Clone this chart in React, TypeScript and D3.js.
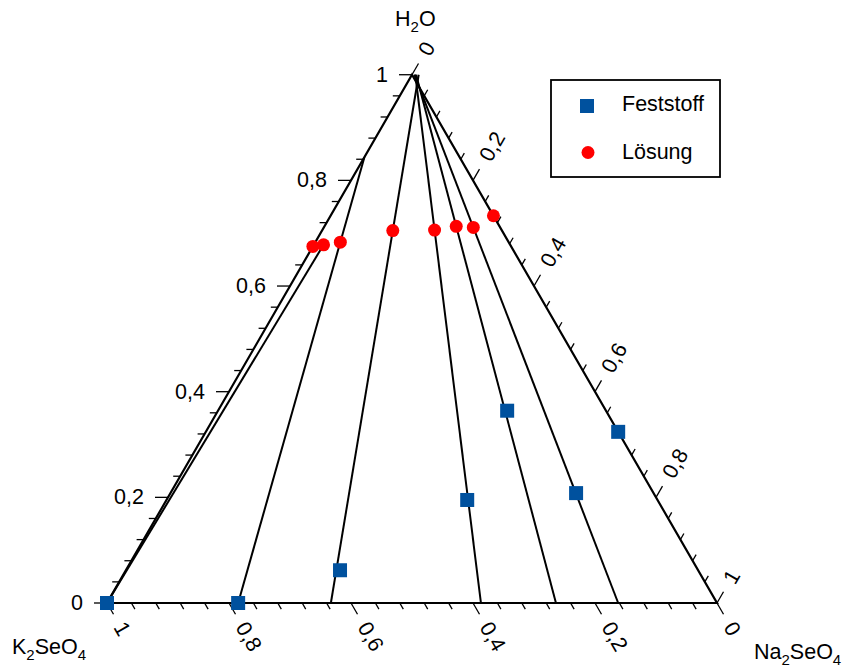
import React from "react";
import * as d3 from "d3";

// Ternary system K2SeO4 – Na2SeO4 – H2O, mass fractions.
// Each composition is given as [Na2SeO4 fraction, H2O fraction]; K2SeO4 = 1 - both.
const solutionNa = [0.0, 0.016, 0.041, 0.116, 0.184, 0.216, 0.245, 0.267];
const solutionW = [0.675, 0.678, 0.683, 0.705, 0.706, 0.713, 0.711, 0.733];

const solidNa = [0.0, 0.215, 0.351, 0.493, 0.474, 0.665, 0.676];
const solidW = [0.0, 0.0, 0.062, 0.195, 0.364, 0.208, 0.324];

// Tie lines: start on the anhydrous side (Na2SeO4 fraction, H2O = 0),
// run through a solution point and optionally continue up to the water line
// (or the K2SeO4–H2O edge, whichever comes first).
const tieStartNa = [0.0, 0.215, 0.367, 0.613, 0.736, 0.838];
const tieSolution = [1, 2, 3, 4, 5, 6];
const tieExtend = [false, true, true, true, true, true];

const tickValues = d3.range(0, 1.0001, 0.04).map((v) => Math.round(v * 100) / 100);
const labelValues = [0, 0.2, 0.4, 0.6, 0.8, 1];

const legendLabels = ["Feststoff", "Lösung"];

const W = 848;
const H = 669;
const x0 = 107;
const y0 = 603;
const side = 610;
const height = side * Math.sqrt(3) / 2;

const xScale = d3.scaleLinear().domain([0, 1]).range([x0, x0 + side]);
const yScale = d3.scaleLinear().domain([0, 1]).range([y0, y0 - height]);

const deLocale = d3.formatLocale({ decimal: ",", thousands: ".", grouping: [3], currency: ["", "€"] });
const fmt = deLocale.format("~g");

type Comp = { na: number; w: number };
const px = (c: Comp): [number, number] => [xScale(c.na + c.w / 2), yScale(c.w)];

const FONT = "'Liberation Sans', Arial, Helvetica, sans-serif";
const BLUE = "#00519e";
const RED = "#ff0000";
const FS = 21.5;
const SUB = 15;

function extendLine(p: Comp, q: Comp): Comp {
  const dNa = q.na - p.na;
  const dW = q.w - p.w;
  let tMax = (1 - p.w) / dW;
  if (dNa < 0) tMax = Math.min(tMax, -p.na / dNa);
  return { na: p.na + tMax * dNa, w: p.w + tMax * dW };
}

export default function App() {
  const cos60 = 0.5;
  const sin60 = Math.sqrt(3) / 2;

  const A: Comp = { na: 0, w: 0 }; // K2SeO4
  const B: Comp = { na: 1, w: 0 }; // Na2SeO4
  const C: Comp = { na: 0, w: 1 }; // H2O
  const tri = [A, B, C].map(px);

  const tieLines = tieStartNa.map((na, i) => {
    const p: Comp = { na, w: 0 };
    const s = tieSolution[i];
    const q: Comp = { na: solutionNa[s], w: solutionW[s] };
    const end = tieExtend[i] ? extendLine(p, q) : q;
    return [px(p), px(end)];
  });

  const isMajor = (v: number) => Math.abs(v * 5 - Math.round(v * 5)) < 1e-6;
  const majorLen = 13;
  const minorLen = 7;
  const labelOff = 24;

  // left axis: H2O fraction, ticks point left
  const leftTicks = tickValues.map((v) => {
    const [x, y] = px({ na: 0, w: v });
    const len = isMajor(v) ? majorLen : minorLen;
    return { v, x, y, x2: x - len, y2: y };
  });
  // bottom axis: K2SeO4 fraction, ticks point down-right
  const bottomTicks = tickValues.map((v) => {
    const [x, y] = px({ na: 1 - v, w: 0 });
    const len = isMajor(v) ? majorLen : minorLen;
    return { v, x, y, x2: x + len * cos60, y2: y + len * sin60 };
  });
  // right axis: Na2SeO4 fraction, ticks point up-right
  const rightTicks = tickValues.map((v) => {
    const [x, y] = px({ na: v, w: 1 - v });
    const len = isMajor(v) ? majorLen : minorLen;
    return { v, x, y, x2: x + len * cos60, y2: y - len * sin60 };
  });

  const lineStyle = { stroke: "#000", strokeWidth: 1.3, fill: "none" };
  const isLabel = (v: number) => labelValues.some((l) => Math.abs(l - v) < 1e-6);

  return (
    <svg width={W} height={H} viewBox={`0 0 ${W} ${H}`} style={{ display: "block", position: "absolute", left: 0, top: 0, background: "#fff" }} fontFamily={FONT}>
      <rect x={0} y={0} width={W} height={H} fill="#fff" />

      {/* triangle edges */}
      <polygon points={tri.map((p) => p.join(",")).join(" ")} fill="none" stroke="#000" strokeWidth={2.2} strokeLinejoin="miter" />

      {/* ticks */}
      {[...leftTicks, ...bottomTicks, ...rightTicks].map((t, i) => (
        <line key={"t" + i} x1={t.x} y1={t.y} x2={t.x2} y2={t.y2} {...lineStyle} />
      ))}

      {/* tick labels */}
      {leftTicks.filter((t) => isLabel(t.v)).map((t, i) => (
        <text key={"ll" + i} x={t.x - labelOff} y={t.y} textAnchor="end" dominantBaseline="central" fontSize={FS} fill="#000">
          {fmt(t.v)}
        </text>
      ))}
      {bottomTicks.filter((t) => isLabel(t.v)).map((t, i) => {
        const lx = t.x + labelOff * cos60;
        const ly = t.y + labelOff * sin60;
        return (
          <text key={"bl" + i} x={lx} y={ly} textAnchor="start" dominantBaseline="central" fontSize={FS} fill="#000" transform={`rotate(60 ${lx} ${ly})`}>
            {fmt(t.v)}
          </text>
        );
      })}
      {rightTicks.filter((t) => isLabel(t.v)).map((t, i) => {
        const lx = t.x + labelOff * cos60;
        const ly = t.y - labelOff * sin60;
        return (
          <text key={"rl" + i} x={lx} y={ly} textAnchor="start" dominantBaseline="central" fontSize={FS} fill="#000" transform={`rotate(-60 ${lx} ${ly})`}>
            {fmt(t.v)}
          </text>
        );
      })}

      {/* tie lines */}
      {tieLines.map((l, i) => (
        <line key={"tie" + i} x1={l[0][0]} y1={l[0][1]} x2={l[1][0]} y2={l[1][1]} stroke="#000" strokeWidth={2} />
      ))}

      {/* solid phases */}
      {solidNa.map((na, i) => {
        const [x, y] = px({ na, w: solidW[i] });
        return <rect key={"s" + i} x={x - 7} y={y - 7} width={14} height={14} fill={BLUE} />;
      })}

      {/* saturated solutions */}
      {solutionNa.map((na, i) => {
        const [x, y] = px({ na, w: solutionW[i] });
        return <circle key={"c" + i} cx={x} cy={y} r={6.5} fill={RED} />;
      })}

      {/* vertex labels */}
      <text x={395} y={26} fontSize={FS} fill="#000">
        H<tspan fontSize={SUB} dy={6}>2</tspan><tspan dy={-6}>O</tspan>
      </text>
      <text x={12} y={654} fontSize={FS} fill="#000">
        K<tspan fontSize={SUB} dy={6}>2</tspan><tspan dy={-6}>SeO</tspan><tspan fontSize={SUB} dy={6}>4</tspan>
      </text>
      <text x={754} y={659} fontSize={FS} fill="#000">
        Na<tspan fontSize={SUB} dy={6}>2</tspan><tspan dy={-6}>SeO</tspan><tspan fontSize={SUB} dy={6}>4</tspan>
      </text>

      {/* legend */}
      <rect x={551} y={80} width={169} height={97} fill="#fff" stroke="#000" strokeWidth={1.8} />
      <rect x={580} y={99} width={14} height={14} fill={BLUE} />
      <circle cx={588} cy={152.5} r={6.5} fill={RED} />
      <text x={622} y={104} dominantBaseline="central" fontSize={FS} fill="#000">{legendLabels[0]}</text>
      <text x={622} y={152} dominantBaseline="central" fontSize={FS} fill="#000">{legendLabels[1]}</text>
    </svg>
  );
}
